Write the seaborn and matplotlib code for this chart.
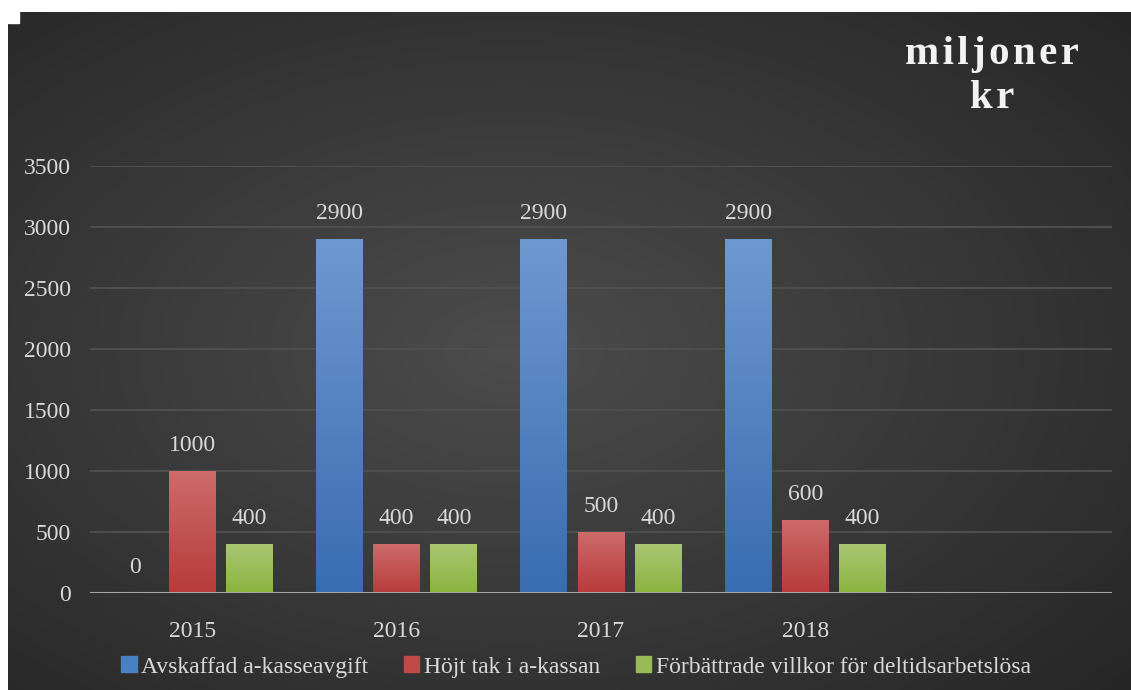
import numpy as np
import pandas as pd
import matplotlib
matplotlib.use("Agg")
import matplotlib.pyplot as plt
import seaborn as sns
from matplotlib.colors import LinearSegmentedColormap
from matplotlib.patches import Rectangle

# Data (miljoner kr)
years = ["2015", "2016", "2017", "2018"]
series = ["Avskaffad a-kasseavgift", "Höjt tak i a-kassan", "Förbättrade villkor för deltidsarbetslösa"]
avskaffad = [0, 2900, 2900, 2900]
hojt_tak = [1000, 400, 500, 600]
deltid = [400, 400, 400, 400]
yticks = [0, 500, 1000, 1500, 2000, 2500, 3000, 3500]

df = pd.DataFrame({
    "År": years * 3,
    "Serie": [series[0]] * 4 + [series[1]] * 4 + [series[2]] * 4,
    "Värde": avskaffad + hojt_tak + deltid,
})

# colours: mid tone, light top, dark bottom
mid_cols = ["#4a7fc4", "#c04a4a", "#99bb55"]
top_cols = ["#6e98d0", "#cd6b6b", "#a9c672"]
bot_cols = ["#3a6cb2", "#b83b3b", "#8ab43f"]
txt = "#d9d9d9"

sns.set_theme(style="dark")
plt.rcParams["font.family"] = ["Liberation Serif", "DejaVu Serif"]

W, H = 1131, 690
fig = plt.figure(figsize=(W / 100, H / 100), dpi=100, facecolor="white")

# dark radial gradient background panel
bg = fig.add_axes([8 / W, 0, (W - 8) / W, (H - 12) / H])
bg.set_axis_off()
yy, xx = np.mgrid[0:1:300j, 0:1:500j]
r = np.sqrt(((xx - 0.45) / 0.75) ** 2 + ((yy - 0.5) / 0.75) ** 2)
r = np.clip(r, 0, 1)
bg_cmap = LinearSegmentedColormap.from_list("bg", ["#4c4c4c", "#262626"])
bg.imshow(r, cmap=bg_cmap, aspect="auto", extent=[0, 1, 0, 1], origin="lower")
bg.set_xlim(0, 1)
bg.set_ylim(0, 1)
# little white notch in the top-left corner
fig.patches.append(Rectangle((8 / W, (H - 23) / H), 11 / W, 11 / H,
                             transform=fig.transFigure, color="white", zorder=5))

ax = fig.add_axes([90 / W, (H - 593) / H, (1112 - 90) / W, (593 - 166) / H])
ax.set_facecolor("none")

sns.barplot(data=df, x="År", y="Värde", hue="Serie", order=years, hue_order=series,
            palette=mid_cols, width=0.84, gap=0.18, ax=ax, legend=False, zorder=3,
            edgecolor="none", linewidth=0)

ax.set_yticks(yticks)
ax.set_xticks(range(len(years)))
ax.set_xticklabels(years)
ax.set_xlabel("")
ax.set_ylabel("")
ax.tick_params(axis="y", colors=txt, labelsize=17, pad=14, length=0)
ax.tick_params(axis="x", colors=txt, labelsize=17, pad=20, length=0)
for s in ax.spines.values():
    s.set_visible(False)
ax.grid(axis="y", color="#4e4e4e", linewidth=1.5, zorder=0)
ax.grid(axis="x", visible=False)
ax.axhline(0, color="#a6a6a6", linewidth=2.2, zorder=4)

# vertical gradient fill on each bar
for i, cont in enumerate(ax.containers):
    cmap = LinearSegmentedColormap.from_list("g%d" % i, [bot_cols[i], top_cols[i]])
    grad = np.linspace(0, 1, 256).reshape(-1, 1)
    for bar in cont:
        x0, w_ = bar.get_x(), bar.get_width()
        h_ = bar.get_height()
        if h_ <= 0:
            continue
        im = ax.imshow(grad, cmap=cmap, aspect="auto", origin="lower",
                       extent=[x0, x0 + w_, 0, h_], zorder=3.5)
        im.set_clip_path(bar)
    ax.bar_label(cont, labels=[f"{v:.0f}" for v in cont.datavalues],
                 padding=11, color=txt, fontsize=17)
ax.set_xlim(-0.5, 4.5)
ax.set_ylim(0, 3500)

# title at the top right
fig.text(992 / W, 1 - 36 / H, "\u200a".join("miljoner") + "\n" + "\u200a".join("kr"),
         ha="center", va="top", fontsize=29.5, fontweight="bold", color="#f2f2f2",
         linespacing=1.25)

# legend along the bottom
handles = [Rectangle((0, 0), 1, 1, color=c) for c in mid_cols]
fig.legend(handles, series, loc="center", bbox_to_anchor=(576 / W, 1 - 667 / H),
           ncol=3, frameon=False, fontsize=17, labelcolor=txt,
           handlelength=0.65, handleheight=0.65, handletextpad=0.2, columnspacing=1.5)

fig.savefig("out.png", dpi=100, facecolor="white")
